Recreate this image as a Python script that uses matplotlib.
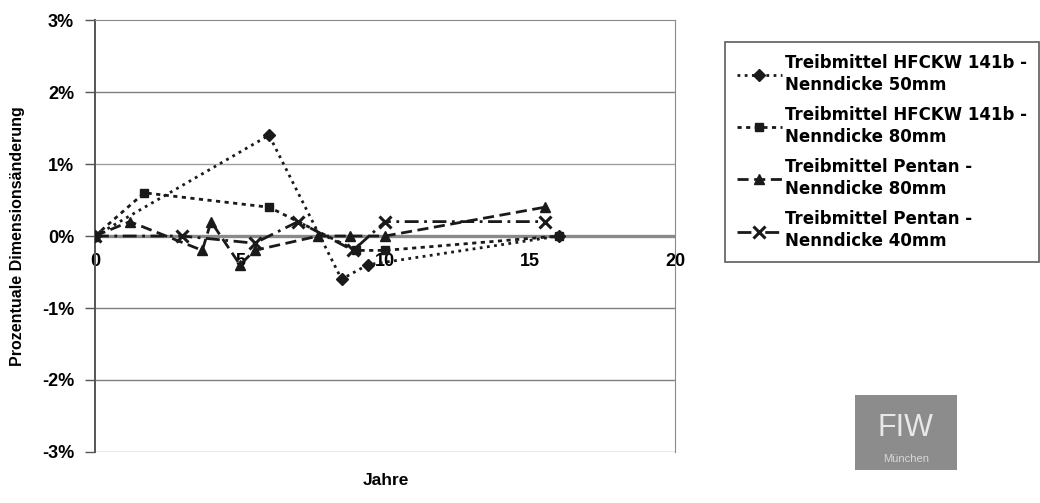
import matplotlib
matplotlib.use('Agg')
import matplotlib.pyplot as plt
from matplotlib.patches import Rectangle
from matplotlib.ticker import FuncFormatter

plt.rcParams['font.family'] = ['Liberation Sans', 'DejaVu Sans']
plt.rcParams['font.weight'] = 'bold'

# Jahre / prozentuale Dimensionsaenderung (in %)
jahre_hfckw_50 = [0, 6, 8.5, 9.4, 16]
werte_hfckw_50 = [0, 1.4, -0.6, -0.4, 0]

jahre_hfckw_80 = [0, 1.7, 6, 9, 10, 16]
werte_hfckw_80 = [0, 0.6, 0.4, -0.2, -0.2, 0]

jahre_pentan_80 = [0, 1.2, 3.7, 4, 5, 5.5, 7.7, 8.8, 10, 15.5]
werte_pentan_80 = [0, 0.2, -0.2, 0.2, -0.4, -0.2, 0, 0, 0, 0.4]

jahre_pentan_40 = [0, 3, 5.5, 7, 8.9, 10, 15.5]
werte_pentan_40 = [0, 0, -0.1, 0.2, -0.2, 0.2, 0.2]

labels = ['Treibmittel HFCKW 141b -\nNenndicke 50mm',
          'Treibmittel HFCKW 141b -\nNenndicke 80mm',
          'Treibmittel Pentan -\nNenndicke 80mm',
          'Treibmittel Pentan -\nNenndicke 40mm']

y_ticks = [-3, -2, -1, 0, 1, 2, 3]
x_ticks = [0, 5, 10, 15, 20]

fig = plt.figure(figsize=(10.4, 5.03), dpi=100)
ax = fig.add_axes([0.0913, 0.1014, 0.558, 0.8588])

ax.set_xlim(0, 20)
ax.set_ylim(-3, 3)

# gridlines
for yv in y_ticks:
    if yv in (-3, 0, 3):
        continue
    ax.axhline(yv, color='#7f7f7f' if yv != 1 else '#a0a0a0', lw=1.0, zorder=1)
ax.axhline(0, color='#8a8a8a', lw=2.4, zorder=1)

ax.plot(jahre_hfckw_50, werte_hfckw_50, color='#1a1a1a', ls=(0, (1, 1.6)), lw=2.0,
        marker='D', ms=6, label=labels[0], zorder=3)
ax.plot(jahre_hfckw_80, werte_hfckw_80, color='#1a1a1a', ls=(0, (1.5, 1.6)), lw=2.0,
        marker='s', ms=6, label=labels[1], zorder=3)
ax.plot(jahre_pentan_80, werte_pentan_80, color='#1a1a1a', ls=(0, (4, 2)), lw=2.0,
        marker='^', ms=7, label=labels[2], zorder=3)
ax.plot(jahre_pentan_40, werte_pentan_40, color='#1a1a1a', ls=(0, (5, 2, 1, 2)), lw=2.0,
        marker='x', ms=9, mew=2.2, label=labels[3], zorder=3)

for side in ['top', 'right']:
    ax.spines[side].set_color('#8a8a8a')
ax.spines['left'].set_color('#555555')
ax.spines['left'].set_linewidth(1.4)
ax.spines['bottom'].set_position(('data', 0))
ax.spines['bottom'].set_visible(False)
ax.axhline(-3, color='#8a8a8a', lw=1.0)

ax.set_yticks(y_ticks)
ax.yaxis.set_major_formatter(FuncFormatter(lambda v, p: f'{int(v)}%'))
ax.tick_params(axis='y', direction='out', length=7, width=1, color='#555555',
               labelsize=13, pad=8)
ax.set_xticks(x_ticks)
ax.tick_params(axis='x', length=0, labelsize=13, pad=12)

ax.set_ylabel('Prozentuale Dimensionsänderung', fontsize=11.5, fontweight='bold', labelpad=12)
fig.text(0.371, 0.045, 'Jahre', ha='center', va='center', fontsize=12.5, fontweight='bold')

leg = fig.legend(loc='upper left', bbox_to_anchor=(0.697, 0.9165),
                 prop={'family': 'DejaVu Sans', 'weight': 'bold', 'size': 12},
                 frameon=True, fancybox=False, edgecolor='#444444', handlelength=2.7,
                 handletextpad=0.2, borderpad=0.7, labelspacing=0.72, borderaxespad=0)
leg.get_frame().set_linewidth(1.3)
for t in leg.get_texts():
    t.set_linespacing(1.3)

# logo
fig.patches.append(Rectangle((0.822, 0.066), 0.098, 0.148, transform=fig.transFigure,
                             facecolor='#8c8c8c', edgecolor='none'))
fig.text(0.871, 0.15, 'FIW', ha='center', va='center', fontsize=22, color='#e8e8e8',
         fontweight='normal')
fig.text(0.871, 0.088, 'München', ha='center', va='center', fontsize=8, color='#d8d8d8',
         fontweight='normal')

fig.savefig('out.png', dpi=100)
